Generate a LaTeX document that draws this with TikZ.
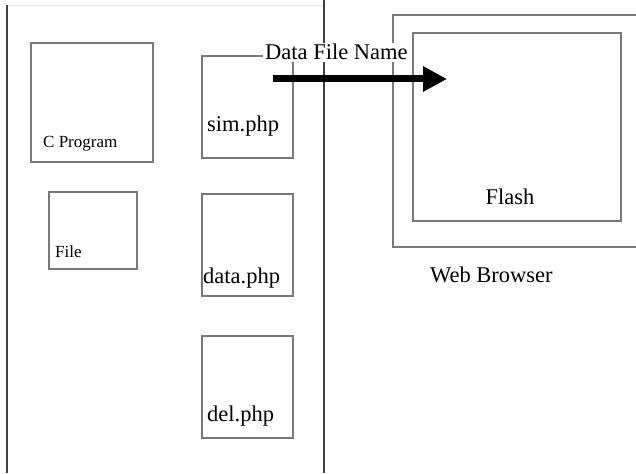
\documentclass[tikz,border=0pt]{standalone}
\usepackage{fontspec}
\setmainfont{Liberation Serif}
\usetikzlibrary{arrows.meta}

\begin{document}
\begin{tikzpicture}[x=1pt, y=-1pt,
    box/.style={draw=gray!95!black, line width=1.2pt, inner sep=0pt, outer sep=0pt, anchor=north west},
    big/.style={font=\fontsize{22.5}{27}\selectfont, inner sep=0pt, anchor=base west},
    small/.style={font=\fontsize{17}{20}\selectfont, inner sep=0pt, anchor=base west},
    divider/.style={draw=black!75, line width=1.3pt},
    flow/.style={line width=7pt, -{Triangle[length=24pt, width=24pt]}},
    ]
    \useasboundingbox[fill=white] (0,0) rectangle (636,473);
    \draw[gray!20] (7,5) -- (324,5);
    \draw[divider] (7,5) -- (7,473);
    \draw[divider] (324,0) -- (324,473);
    \node[box, minimum width=122pt, minimum height=119pt] (cprog) at (31,43) {};
    \node[box, minimum width=88pt, minimum height=77pt] (file) at (49,192) {};
    \node[box, minimum width=91pt, minimum height=102pt] (sim) at (202,56) {};
    \node[box, minimum width=91pt, minimum height=102pt] (data) at (202,194) {};
    \node[box, minimum width=91pt, minimum height=102pt] (del) at (202,336) {};
    \coordinate (browser-ne) at (636,15);
    \coordinate (browser-sw) at (393,247);
    \draw[gray!95!black, line width=1.2pt] (browser-ne) -| (browser-sw) -- (browser-sw -| browser-ne);
    \node[box, minimum width=208pt, minimum height=188pt] (flash) at (413,33) {};
    \node[small] (cprog-text) at (43,147) {C Program};
    \node[small] (file-text) at (55,257) {File};
    \node[big] (sim-text) at (207,132) {sim.php};
    \node[big] (data-text) at (203,283) {data.php};
    \node[big] (del-text) at (207,421) {del.php};
    \node[big, anchor=base] (flash-text) at (510,204) {Flash};
    \node[big] (browser-text) at (430,282) {Web Browser};
    \node[big, fill=white, inner xsep=2pt, inner ysep=1.5pt] (dfn) at (263,60) {Data File Name};
    \coordinate (dfn-from) at (273,79);
    \coordinate (dfn-to) at (447,79);
    \draw[flow] (dfn-from) -- (dfn-to);
\end{tikzpicture}
\end{document}
